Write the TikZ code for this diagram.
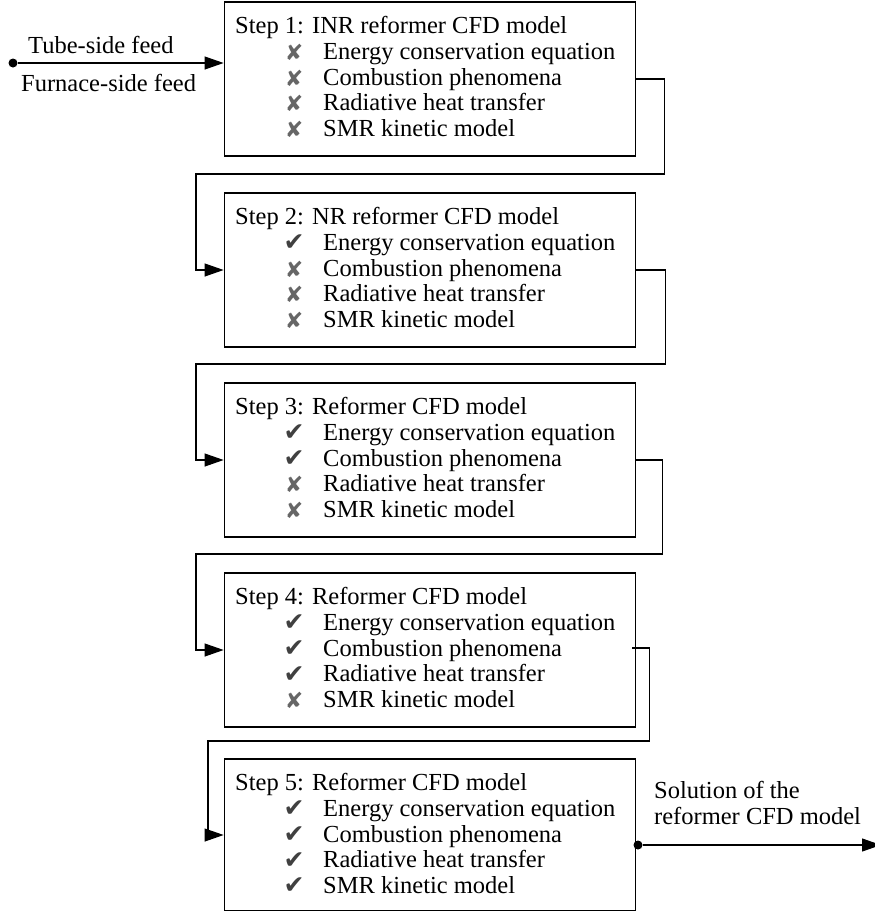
\documentclass[tikz,border=0pt]{standalone}
\usepackage{fontspec}
\setmainfont{Liberation Serif}
\newfontfamily\symfont{DejaVu Sans}
\usetikzlibrary{arrows.meta,calc}
\newcommand{\yes}{{\symfont\fontsize{25}{25}\selectfont\color{black!75}✔}}
\newcommand{\no}{{\symfont\fontsize{22}{22}\selectfont\color{black!60}✘}}
\begin{document}
\begin{tikzpicture}[x=1pt,y=-1pt,
  stepbox/.style={draw,line width=1.8pt,minimum width=411pt,minimum height=154pt,inner sep=0pt},
  lbl/.style={anchor=base west,inner sep=0pt,font=\fontsize{24.5}{27}\selectfont},
  ico/.style={anchor=center,inner sep=0pt},
  conn/.style={line width=1.1pt},
  arr/.style={conn,-{Triangle[length=19pt,width=13pt]}},
  dot/.style={circle,fill=black,inner sep=0pt,minimum size=9pt}]
\useasboundingbox (0,0) rectangle (875,911);
\node[stepbox] (b1) at (430,79) {};
\node[stepbox] (b2) at (430,270) {};
\node[stepbox] (b3) at (430,460) {};
\node[stepbox] (b4) at (430,650) {};
\node[stepbox,minimum height=152pt] (b5) at (430,835) {};
% texts
\foreach \b/\t/\title/\ia/\ib/\ic/\id in {
  1/2/{Step 1: INR reformer CFD model}/\no/\no/\no/\no,
  2/193/{Step 2: NR reformer CFD model}/\yes/\no/\no/\no,
  3/383/{Step 3: Reformer CFD model}/\yes/\yes/\no/\no,
  4/573/{Step 4: Reformer CFD model}/\yes/\yes/\yes/\no,
  5/759/{Step 5: Reformer CFD model}/\yes/\yes/\yes/\yes}{
  \node[lbl] (t\b) at (235,\t+31) {\title};
  \node[ico] (ia\b) at (294,\t+50) {\ia};
  \node[ico] (ib\b) at (294,\t+76) {\ib};
  \node[ico] (ic\b) at (294,\t+101.5) {\ic};
  \node[ico] (id\b) at (294,\t+127) {\id};
  \node[lbl] (la\b) at (323,\t+57) {Energy conservation equation};
  \node[lbl] (lb\b) at (323,\t+83) {Combustion phenomena};
  \node[lbl] (lc\b) at (323,\t+108.5) {Radiative heat transfer};
  \node[lbl] (ld\b) at (323,\t+134) {SMR kinetic model};
}
% input feed
\node[dot] (in) at (13,63) {};
\coordinate (b1in) at (b1.west |- in);
\draw[arr] (in) -- (b1in);
\node[lbl] (tube) at (28,53) {Tube-side feed};
\node[lbl] (furn) at (21,91) {Furnace-side feed};
% connectors
\draw[arr] (b1.east) -- ++(28,0) |- (196,174) |- (b2.west);
\draw[arr] (b2.east) -- ++(29,0) |- (196,364) |- (b3.west);
\draw[arr] (b3.east) -- ++(26,0) |- (196,554) |- (b4.west);
\draw[arr] ([xshift=-4pt,yshift=2pt]b4.east) -- ++(17,0) |- (208,741) |- (b5.west);
% output
\node[dot] (out) at (638,845) {};
\coordinate (outend) at (881,845);
\draw[arr] (out) -- (outend);
\node[lbl] (sol1) at (654,798) {Solution of the};
\node[lbl] (sol2) at (654,824) {reformer CFD model};
\end{tikzpicture}
\end{document}
